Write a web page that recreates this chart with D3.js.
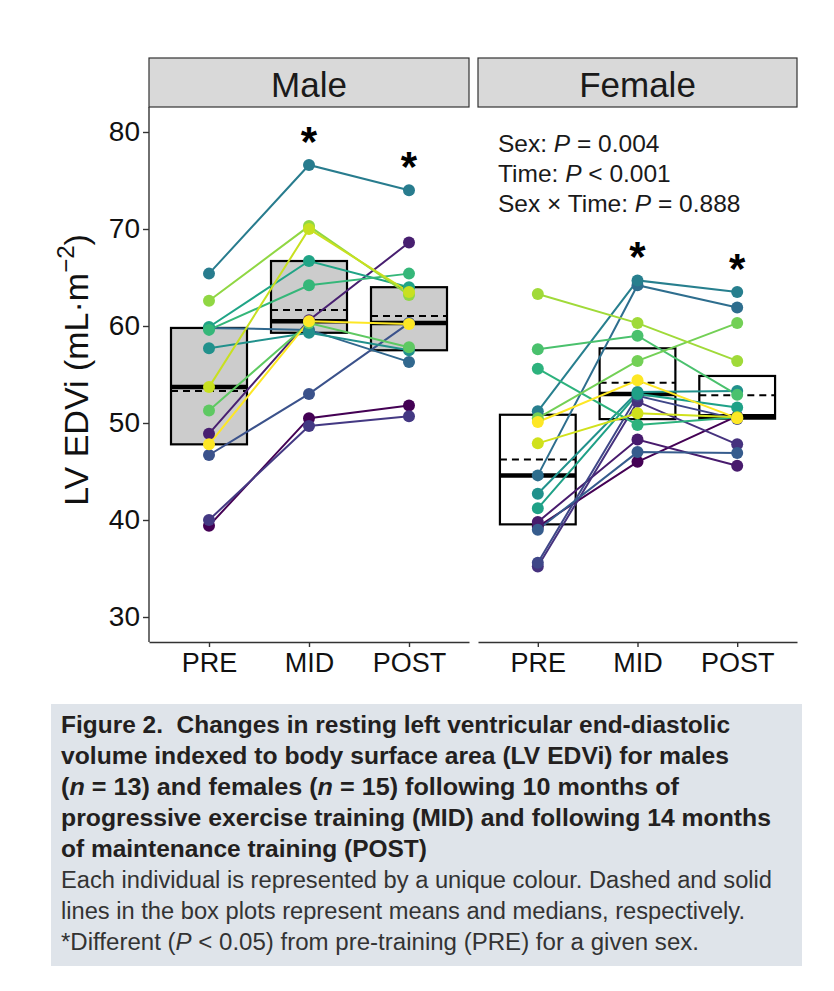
<!DOCTYPE html>
<html>
<head>
<meta charset="utf-8">
<script src="https://cdn.jsdelivr.net/npm/d3@7"></script>
<style>
  body { margin: 0; background: #fff; }
  svg { display: block; font-family: "Liberation Sans", Arial, sans-serif; }
  .caption text { white-space: pre; }
</style>
</head>
<body>
<svg id="chart" width="834" height="991"></svg>
<script>
const timepoints = ['PRE', 'MID', 'POST'];
const yTicks = [30, 40, 50, 60, 70, 80];

// one value per individual, same order in each array (13 males)
const malePre  = [39.4, 48.9, 40.0, 46.7, 59.8, 65.4, 57.7, 59.9, 59.6, 51.3, 62.6, 53.7, 47.8];
const maleMid  = [50.5, 60.6, 49.7, 53.0, 59.6, 76.6, 59.3, 66.7, 64.2, 60.3, 70.3, 70.0, 60.5];
const malePost = [51.8, 68.6, 50.7, 60.3, 56.3, 74.0, 57.5, 64.0, 65.4, 57.8, 63.2, 63.5, 60.2];

// 15 females
const femalePre  = [39.3, 39.8, 35.2, 35.6, 39.0, 44.6, 51.2, 42.7, 41.2, 55.6, 57.6, 50.5, 63.3, 47.9, 50.1];
const femaleMid  = [46.0, 48.3, 52.2, 52.8, 47.0, 64.2, 64.7, 53.2, 53.0, 49.8, 59.0, 56.4, 60.3, 51.0, 54.4];
const femalePost = [50.7, 45.6, 47.8, 50.4, 46.9, 61.9, 63.5, 53.3, 51.6, 50.6, 52.9, 60.3, 56.4, 50.6, 50.5];

// timepoints different from PRE
const maleSig = ['MID', 'POST'];
const femaleSig = ['MID', 'POST'];

const statLines = [
  ['Sex: ', 'P', ' = 0.004'],
  ['Time: ', 'P', ' < 0.001'],
  ['Sex \u00d7 Time: ', 'P', ' = 0.888']
];

const captionBold = [
  [['Figure 2.  Changes in resting left ventricular end-diastolic', false]],
  [['volume indexed to body surface area (LV EDVi) for males', false]],
  [['(', false], ['n', true], [' = 13) and females (', false], ['n', true], [' = 15) following 10 months of', false]],
  [['progressive exercise training (MID) and following 14 months', false]],
  [['of maintenance training (POST)', false]]
];
const captionPlain = [
  [['Each individual is represented by a unique colour. Dashed and solid', false]],
  [['lines in the box plots represent means and medians, respectively.', false]],
  [['*Different (', false], ['P', true], [' < 0.05) from pre-training (PRE) for a given sex.', false]]
];
// rendered widths of the caption lines
const captionWidths = [669, 668, 618, 710, 366, 711, 684, 638];

const svg = d3.select('#chart');

const panelTop = 107, panelBottom = 642, stripTop = 58;
const y = d3.scaleLinear().domain([30, 80]).range([617, 132]);

function drawPanel(name, series, sig, x0, x1, boxFill, withYAxis) {
  const x = d3.scalePoint().domain(timepoints).range([x0, x1]).padding(0.6);
  const g = svg.append('g');
  const n = series[0].length;
  const colour = i => d3.interpolateViridis(i / (n - 1));

  // strip
  g.append('rect')
    .attr('x', x0).attr('y', stripTop)
    .attr('width', x1 - x0).attr('height', panelTop - stripTop)
    .attr('fill', '#d9d9d9').attr('stroke', '#333').attr('stroke-width', 1.2);
  g.append('text')
    .attr('x', (x0 + x1) / 2).attr('y', 97)
    .attr('text-anchor', 'middle')
    .attr('font-size', 35).attr('fill', '#1a1a1a')
    .text(name);

  // boxes: quartiles, median (solid) and mean (dashed)
  const bw = x.step() * 0.76;
  timepoints.forEach((t, j) => {
    const vals = series[j].slice().sort(d3.ascending);
    const q1 = d3.quantile(vals, 0.25);
    const q3 = d3.quantile(vals, 0.75);
    const med = d3.quantile(vals, 0.5);
    const mean = d3.mean(vals);
    const cx = x(t);
    g.append('rect')
      .attr('x', cx - bw / 2).attr('y', y(q3))
      .attr('width', bw).attr('height', y(q1) - y(q3))
      .attr('fill', boxFill).attr('stroke', '#000').attr('stroke-width', 2.2);
    g.append('line')
      .attr('x1', cx - bw / 2).attr('x2', cx + bw / 2)
      .attr('y1', y(med)).attr('y2', y(med))
      .attr('stroke', '#000').attr('stroke-width', 4.5);
    g.append('line')
      .attr('x1', cx - bw / 2).attr('x2', cx + bw / 2)
      .attr('y1', y(mean)).attr('y2', y(mean))
      .attr('stroke', '#000').attr('stroke-width', 2)
      .attr('stroke-dasharray', '7,5');
  });

  // individual trajectories
  const line = d3.line().x(d => x(d.t)).y(d => y(d.v));
  const people = d3.range(n).map(i => timepoints.map((t, j) => ({ t: t, v: series[j][i], i: i })));
  g.append('g')
    .selectAll('path')
    .data(people)
    .join('path')
      .attr('fill', 'none')
      .attr('stroke', d => colour(d[0].i))
      .attr('stroke-width', 2)
      .attr('d', line);
  g.append('g')
    .selectAll('circle')
    .data(people.flat())
    .join('circle')
      .attr('cx', d => x(d.t)).attr('cy', d => y(d.v))
      .attr('r', 6)
      .attr('fill', d => colour(d.i));

  // asterisks above the highest point
  sig.forEach(t => {
    const j = timepoints.indexOf(t);
    g.append('text')
      .attr('x', x(t)).attr('y', y(d3.max(series[j])) - 9)
      .attr('text-anchor', 'middle')
      .attr('font-size', 42).attr('font-weight', 'bold')
      .text('*');
  });

  // x axis
  const xAxis = g.append('g')
    .attr('transform', `translate(0,${panelBottom})`)
    .call(d3.axisBottom(x).tickSize(5).tickSizeOuter(0).tickPadding(6));
  xAxis.select('.domain').attr('stroke', '#333').attr('stroke-width', 1.4);
  xAxis.selectAll('.tick line').attr('stroke', '#333').attr('stroke-width', 1.4);
  xAxis.selectAll('.tick text').attr('font-size', 27).attr('fill', '#111')
    .attr('font-family', '"Liberation Sans", Arial, sans-serif');

  if (withYAxis) {
    const yAxis = g.append('g')
      .attr('transform', `translate(${x0},0)`)
      .call(d3.axisLeft(y).tickValues(yTicks).tickSize(6).tickPadding(3));
    yAxis.select('.domain').remove();
    yAxis.append('line')
      .attr('y1', panelTop).attr('y2', panelBottom)
      .attr('stroke', '#333').attr('stroke-width', 1.4);
    yAxis.selectAll('.tick line').attr('stroke', '#333').attr('stroke-width', 1.4);
    yAxis.selectAll('.tick text').attr('font-size', 28).attr('fill', '#111')
      .attr('font-family', '"Liberation Sans", Arial, sans-serif');
  }
  return x;
}

drawPanel('Male', [malePre, maleMid, malePost], maleSig, 149, 469, '#cccccc', true);
drawPanel('Female', [femalePre, femaleMid, femalePost], femaleSig, 478, 797, 'none', false);

// y axis title
const yTitle = svg.append('text')
  .attr('transform', 'translate(88,370) rotate(-90)')
  .attr('text-anchor', 'middle')
  .attr('font-size', 34).attr('fill', '#111');
yTitle.append('tspan').text('LV EDVi (mL\u00b7m');
yTitle.append('tspan').attr('font-size', 24).attr('dy', -14).text('\u22122');
yTitle.append('tspan').attr('dy', 14).text(')');

// test statistics
statLines.forEach((parts, k) => {
  const t = svg.append('text')
    .attr('x', 498).attr('y', 152 + k * 30)
    .attr('font-size', 24.5).attr('fill', '#1a1a1a');
  t.append('tspan').text(parts[0]);
  t.append('tspan').attr('font-style', 'italic').text(parts[1]);
  t.append('tspan').text(parts[2]);
});

// caption
const cap = svg.append('g').attr('class', 'caption');
cap.append('rect')
  .attr('x', 51).attr('y', 704).attr('width', 751).attr('height', 262)
  .attr('fill', '#dfe4ea');
captionBold.concat(captionPlain).forEach((parts, k) => {
  const bold = k < captionBold.length;
  const t = cap.append('text')
    .attr('x', 61).attr('y', 733 + k * 31)
    .attr('font-size', 23)
    .attr('font-weight', bold ? 'bold' : 'normal')
    .attr('fill', bold ? '#231f20' : '#333')
    .attr('textLength', captionWidths[k])
    .attr('lengthAdjust', 'spacingAndGlyphs');
  parts.forEach(p => {
    t.append('tspan').attr('font-style', p[1] ? 'italic' : 'normal').text(p[0]);
  });
});
</script>
</body>
</html>
